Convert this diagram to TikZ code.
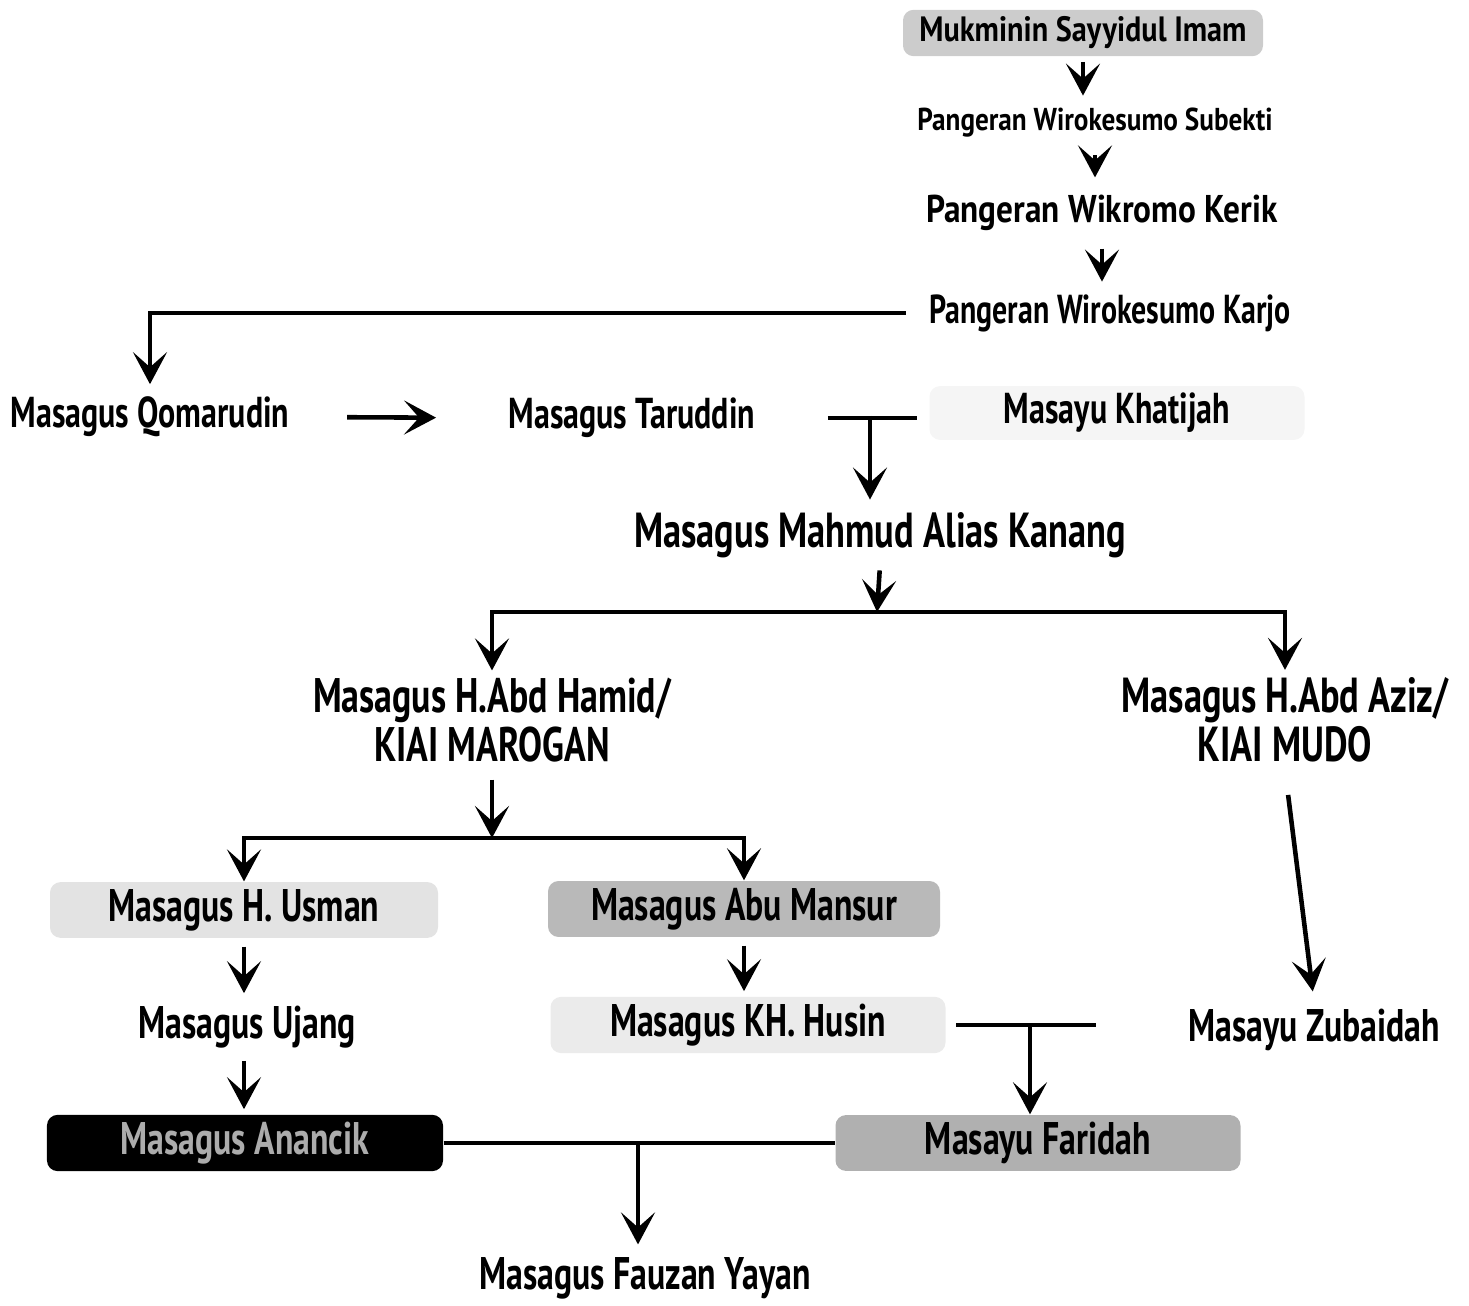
\documentclass[tikz,border=0pt]{standalone}
\usepackage{fontspec}
\newfontfamily\namefont{PT Sans}[FakeStretch=0.74]
\newfontfamily\elderfont{PT Sans}[FakeStretch=0.86]
\usetikzlibrary{arrows.meta, positioning}

\begin{document}
\begin{tikzpicture}
    \tikzset{
        person/.style = {font=\namefont\bfseries\fontsize{13}{12}\selectfont, inner sep=2pt, align=center},
        sized/.style = {font=\namefont\bfseries\fontsize{#1}{12}\selectfont},
        elder/.style = {font=\elderfont\bfseries\fontsize{#1}{12}\selectfont},
        box/.style = {rectangle, rounded corners=3pt, minimum height=0.46cm},
        line/.style = {draw, line width=1.3pt},
        link/.style = {line, -{Stealth[length=3.2mm, width=3.4mm, inset=1.5mm]}},
    }
    \useasboundingbox (0,0) rectangle (14.69,-13.06);

    % top of the line
    \node[person, elder=10, box, fill=gray!40, minimum width=3.6cm](mukminin) at (10.83,-0.33){Mukminin Sayyidul Imam};
    \node[person, elder=9](subekti) at (10.95,-1.23){Pangeran Wirokesumo Subekti};
    \node[person, elder=11](kerik) at (11.02,-2.13){Pangeran Wikromo Kerik};
    \node[person, sized=11.5](karjo) at (11.10,-3.13){Pangeran Wirokesumo Karjo};

    \node[person, sized=12.3](qomarudin) at (1.50,-4.17){Masagus Qomarudin};
    \node[person, sized=12.3](taruddin) at (6.32,-4.18){Masagus Taruddin};
    \node[person, sized=12.3, box, fill=gray!8, minimum width=3.75cm](khatijah) at (11.17,-4.13){Masayu Khatijah};
    \node[person, sized=14](mahmud) at (8.80,-5.35){Masagus Mahmud Alias Kanang};

    \node[person, sized=13.8](hamid) at (4.92,-7.20){Masagus H.Abd Hamid/\\KIAI MAROGAN};
    \node[person, sized=14](aziz) at (12.85,-7.20){Masagus H.Abd Aziz/\\KIAI MUDO};

    \node[person, box, fill=gray!22, minimum width=3.88cm](usman) at (2.44,-9.10){Masagus H. Usman};
    \node[person, box, fill=gray!55, minimum width=3.92cm](mansur) at (7.44,-9.09){Masagus Abu Mansur};
    \node[person](ujang) at (2.47,-10.27){Masagus Ujang};
    \node[person, box, fill=gray!16, minimum width=3.95cm](husin) at (7.48,-10.25){Masagus KH. Husin};
    \node[person](zubaidah) at (13.14,-10.30){Masayu Zubaidah};

    \node[person, box, fill=black, text=gray!65, minimum width=3.96cm](anancik) at (2.45,-11.43){Masagus Anancik};
    \node[person, box, fill=gray!62, minimum width=4.05cm](faridah) at (10.38,-11.43){Masayu Faridah};
    \node[person](fauzan) at (6.45,-12.78){Masagus Fauzan Yayan};

    % junctions
    \coordinate(marriage1) at (8.70,-4.16);
    \coordinate(split1) at (8.77,-6.12);
    \coordinate(split2) at (4.92,-8.38);
    \coordinate(marriage2) at (10.30,-10.27);
    \coordinate(marriage3) at (6.38,-11.43);

    \path [link, shorten <=0.05cm, shorten >=0.05cm] (mukminin.south) -- (mukminin.south |- subekti.north);
    \path [link, shorten <=0.1cm, shorten >=0.1cm] (subekti.south) -- (subekti.south |- kerik.north);
    \path [link, shorten <=0.1cm, shorten >=0.05cm] (kerik.south) -- (kerik.south |- karjo.north);
    \path [link, shorten <=0.16cm, shorten >=0.05cm] (karjo.west) -| (qomarudin.north);
    \path [link, shorten <=0.5cm, shorten >=0.65cm] (qomarudin.east) -- (taruddin.west);
    \path [line, shorten <=0.65cm, shorten >=0.12cm] (taruddin.east) -- (taruddin.east -| khatijah.west);
    \path [link, shorten >=0.05cm] (marriage1) -- (marriage1 |- mahmud.north);
    \path [link, shorten <=0.05cm] (mahmud.south) -- (split1);
    \path [link] (split1) -| (hamid.north);
    \path [link] (split1) -| (aziz.north);
    \path [link, shorten <=0.1cm] (hamid.south) -- (split2);
    \path [link] (split2) -| (usman.north);
    \path [link] (split2) -| (mansur.north);
    \path [link, shorten <=0.08cm, shorten >=0.05cm] (usman.south) -- (usman.south |- ujang.north);
    \path [link, shorten <=0.08cm, shorten >=0.05cm] (mansur.south) -- (mansur.south |- husin.north);
    \path [link, shorten <=0.05cm, shorten >=0.05cm] (usman.south |- ujang.south) -- (usman.south |- anancik.north);
    \path [link, shorten <=0.25cm, shorten >=0.1cm] (aziz.south) -- (zubaidah.north);
    \path [line, shorten <=0.1cm, shorten >=0.85cm] (husin.east) -- (husin.east -| zubaidah.west);
    \path [link] (marriage2) -- (marriage2 |- faridah.north);
    \path [line] (anancik.east) -- (faridah.west);
    \path [link, shorten >=0.05cm] (marriage3) -- (marriage3 |- fauzan.north);

\end{tikzpicture}
\end{document}
